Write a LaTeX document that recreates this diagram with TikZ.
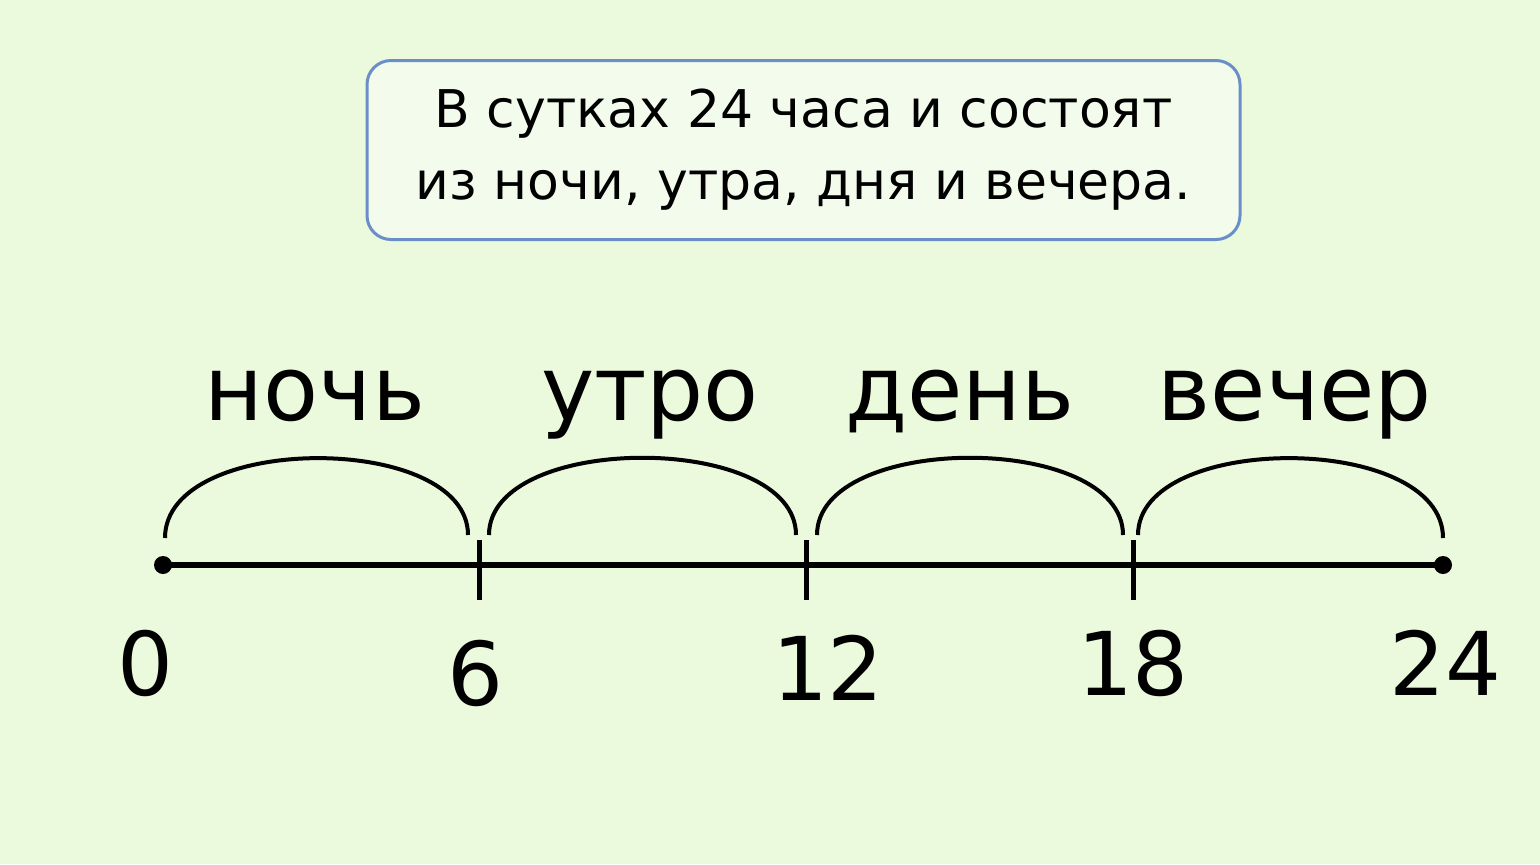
\documentclass[tikz,border=0pt]{standalone}
\usepackage{fontspec}
\setmainfont{DejaVu Sans}
\begin{document}
\begin{tikzpicture}[x=0.5pt,y=-0.5pt,
  lbl/.style={font=\fontsize{45}{54}\selectfont,anchor=base},
  num/.style={font=\fontsize{44}{54}\selectfont,anchor=base},
  arcline/.style={line width=2pt},
  tick/.style={line width=2.5pt}]
\fill[fill={rgb,255:red,235;green,249;blue,220}] (0,0) rectangle (1540,864);
\useasboundingbox (0,0) rectangle (1540,864);
\node[draw={rgb,255:red,106;green,143;blue,200},line width=1.5pt,rounded corners=12pt,
  fill={rgb,255:red,243;green,251;blue,236},minimum width=436.5pt,minimum height=89.5pt,
  align=center,font=\fontsize{26}{36}\selectfont] (box) at (803.5,150)
  {В сутках 24 часа и состоят\\из ночи, утра, дня и вечера.};
\coordinate (p0) at (163,565);
\coordinate (p6) at (479,565);
\coordinate (p12) at (806,565);
\coordinate (p18) at (1133,565);
\coordinate (p24) at (1443,565);
\draw[line width=3pt] (p0) -- (p24);
\fill (p0) circle (4.5pt);
\fill (p24) circle (4.5pt);
\foreach \p in {p6,p12,p18}{\draw[tick] ([yshift=12.5pt]\p) -- ([yshift=-17.5pt]\p);}
\draw[arcline] (165,538) .. controls (165,432) and (468,432) .. (468,535);
\draw[arcline] (489,535) .. controls (489,432) and (796,432) .. (796,535);
\draw[arcline] (817,535) .. controls (817,432) and (1123,432) .. (1123,535);
\draw[arcline] (1138,535) .. controls (1138,432) and (1443,432) .. (1443,538);
\node[lbl] (n1) at (315,420) {ночь};
\node[lbl] (n2) at (650,420) {утро};
\node[lbl] (n3) at (960,420) {день};
\node[lbl] (n4) at (1295,420) {вечер};
\node[num] (t0) at (145,695) {0};
\node[num] (t6) at (475,705) {6};
\node[num] (t12) at (828,700) {12};
\node[num] (t18) at (1133,695) {18};
\node[num] (t24) at (1445,695) {24};
\end{tikzpicture}
\end{document}
